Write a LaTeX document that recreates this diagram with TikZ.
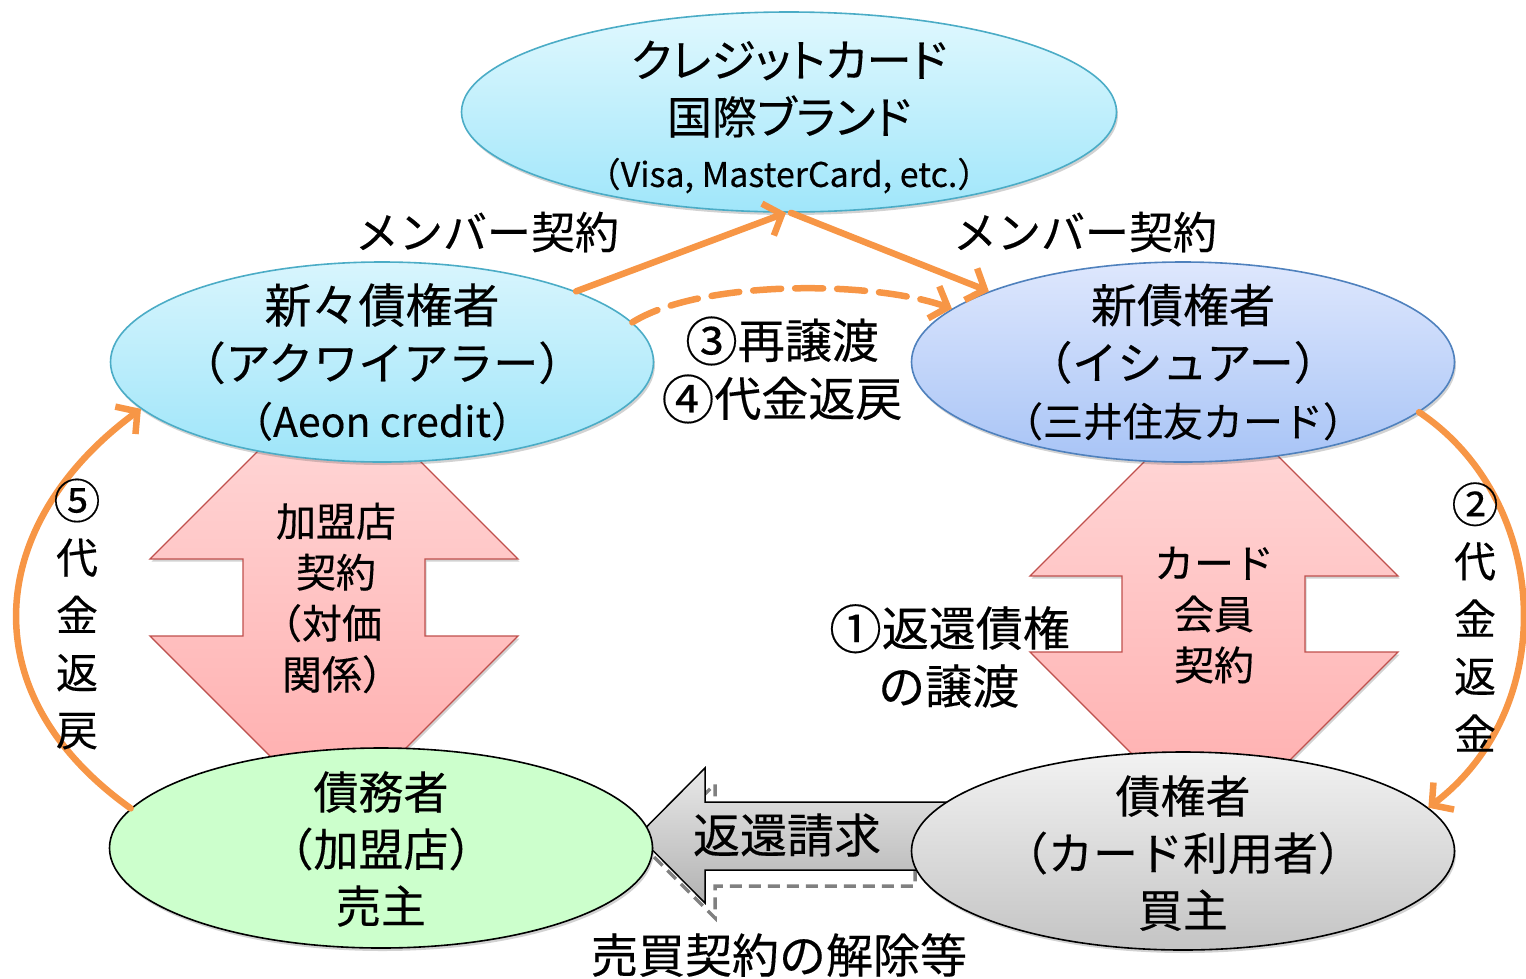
\documentclass[tikz,border=0pt]{standalone}
\usepackage{fontspec}
\usepackage{graphicx}
\setmainfont{Noto Sans CJK JP}[FakeBold=0.3]
\usetikzlibrary{shapes.geometric,arrows.meta,shadows}
\definecolor{orng}{HTML}{F79646}
\definecolor{cyanB}{HTML}{4BACC6}
\definecolor{blueB}{HTML}{4F81BD}
\definecolor{redB}{HTML}{C0504D}
\newcommand\cnum[1]{\raisebox{-0.06em}{\scalebox{1.12}{#1}}}
\newcommand\prop{\addfontfeatures{RawFeature=+palt}}
\begin{document}
\begin{tikzpicture}[x=1pt,y=-1pt,
  ellbase/.style={ellipse, inner sep=0pt, line width=1.6pt,
    drop shadow={shadow xshift=1.5pt, shadow yshift=-3pt, opacity=.25, fill=black!70}},
  txt/.style={align=center, inner sep=0pt, font=\fontsize{45}{57}\selectfont},
  lbl/.style={inner sep=0pt, font=\fontsize{47}{58}\selectfont},
  vtxt/.style={align=center, inner sep=0pt, font=\fontsize{42}{57.5}\selectfont},
  atxt/.style={align=center, inner sep=0pt, font=\fontsize{40}{51}\selectfont},
  pinkarrow/.style={draw=redB, line width=1.3pt, top color=red!14, bottom color=red!33,
    drop shadow={shadow xshift=1.5pt, shadow yshift=-2.5pt, opacity=.25, fill=black!70}},
  oarrow/.style={draw=orng, line width=6.5pt, line cap=round,
    -{Straight Barb[length=15pt,width=34pt]}},
]
\useasboundingbox (0,0) rectangle (1526,978);

% pink double arrows
\draw[pinkarrow] (334,375) -- (518,559) -- (425,559) -- (425,636) -- (518,636) -- (334,820)
  -- (150,636) -- (243,636) -- (243,559) -- (150,559) -- cycle;
\draw[pinkarrow] (1214,392) -- (1398,576) -- (1305,576) -- (1305,652) -- (1398,652) -- (1214,836)
  -- (1030,652) -- (1122,652) -- (1122,576) -- (1030,576) -- cycle;

% gray return arrow with dashed ghost
\draw[black!50, line width=3.5pt, dash pattern=on 12pt off 7pt]
  (648,851) -- (715,784) -- (715,817) -- (915,817) -- (915,886) -- (715,886) -- (715,918) -- cycle;
\draw[black, line width=1.5pt, top color=black!9, bottom color=black!30]
  (638,835.5) -- (705,768) -- (705,802) -- (990,802) -- (990,870) -- (705,870) -- (705,903) -- cycle;

% ellipses
\node[ellbase, draw=cyanB, top color={rgb,255:red,224;green,248;blue,254}, bottom color={rgb,255:red,160;green,230;blue,250},
  minimum width=655pt, minimum height=200pt] (top) at (789,112) {};
\node[ellbase, draw=cyanB, top color={rgb,255:red,216;green,245;blue,253}, bottom color={rgb,255:red,158;green,229;blue,249},
  minimum width=543pt, minimum height=200pt] (lu) at (382,362) {};
\node[ellbase, draw=blueB, top color={rgb,255:red,222;green,231;blue,253}, bottom color={rgb,255:red,168;green,196;blue,246},
  minimum width=543pt, minimum height=200pt] (ru) at (1183,362) {};
\node[ellbase, draw=black, fill={rgb,255:red,204;green,255;blue,204},
  minimum width=543pt, minimum height=200pt] (ld) at (381,848) {};
\node[ellbase, draw=black, top color={rgb,255:red,242;green,242;blue,242}, bottom color={rgb,255:red,196;green,196;blue,196},
  minimum width=543pt, minimum height=198pt] (rd) at (1183,851) {};

% orange arrows
\draw[oarrow] (lu.20) -- ([xshift=-3pt]top.south);
\draw[oarrow] ([xshift=2pt]top.south) -- (ru.160);
\draw[oarrow, dash pattern=on 28pt off 14pt] (lu.9) .. controls (700,280) and (870,280) .. (ru.167);
\draw[oarrow] (ld.171) .. controls (-35,690) and (-10,520) .. (lu.191);
\draw[oarrow] (ru.-12) .. controls (1550,500) and (1562,706) .. (rd.10);

% ellipse texts
\node[txt] (toptxt) at (789,117) {{\prop クレジットカード}\\{\prop 国際ブランド}\\[-4pt]{\fontsize{34}{40}\selectfont（Visa, MasterCard, etc.）}};
\node[txt] (lutxt) at (382,362) {{\fontsize{47}{57}\selectfont 新々債権者}\\（アクワイアラー）\\{\fontsize{41}{50}\selectfont（Aeon credit）}};
\node[txt] (rutxt) at (1183,362) {{\fontsize{46}{57}\selectfont 新債権者}\\（イシュアー）\\{\fontsize{40}{50}\selectfont（三井住友カード）}};
\node[txt] (ldtxt) at (381,849) {債務者\\（加盟店）\\売主};
\node[txt] (rdtxt) at (1183,853) {債権者\\（カード利用者）\\買主};

% arrow texts
\node[atxt] (lat) at (336,598) {加盟店\\契約\\\hspace*{-28pt}（対価\\\hspace*{12pt}関係）};
\node[atxt] (rat) at (1214,615) {カード\\会員\\契約};
\node[lbl] (ret) at (787,835) {返還請求};

% labels
\node[lbl, font=\fontsize{44}{58}\selectfont] (m1) at (487,232) {メンバー契約};
\node[lbl, font=\fontsize{44}{58}\selectfont] (m2) at (1085,232) {メンバー契約};
\node[lbl, align=center] (l34) at (782,370) {\cnum{③}再譲渡\\\cnum{④}代金返戻};
\node[lbl, align=left, anchor=north west] (l1) at (829,604) {\cnum{①}返還債権\\\hspace*{49pt}の譲渡};
\node[vtxt] (l5) at (77,614) {\cnum{⑤}\\代\\金\\返\\戻};
\node[vtxt] (l2) at (1475,617) {\cnum{②}\\代\\金\\返\\金};
\node[lbl] (cancel) at (779,955) {売買契約の解除等};
\end{tikzpicture}
\end{document}
